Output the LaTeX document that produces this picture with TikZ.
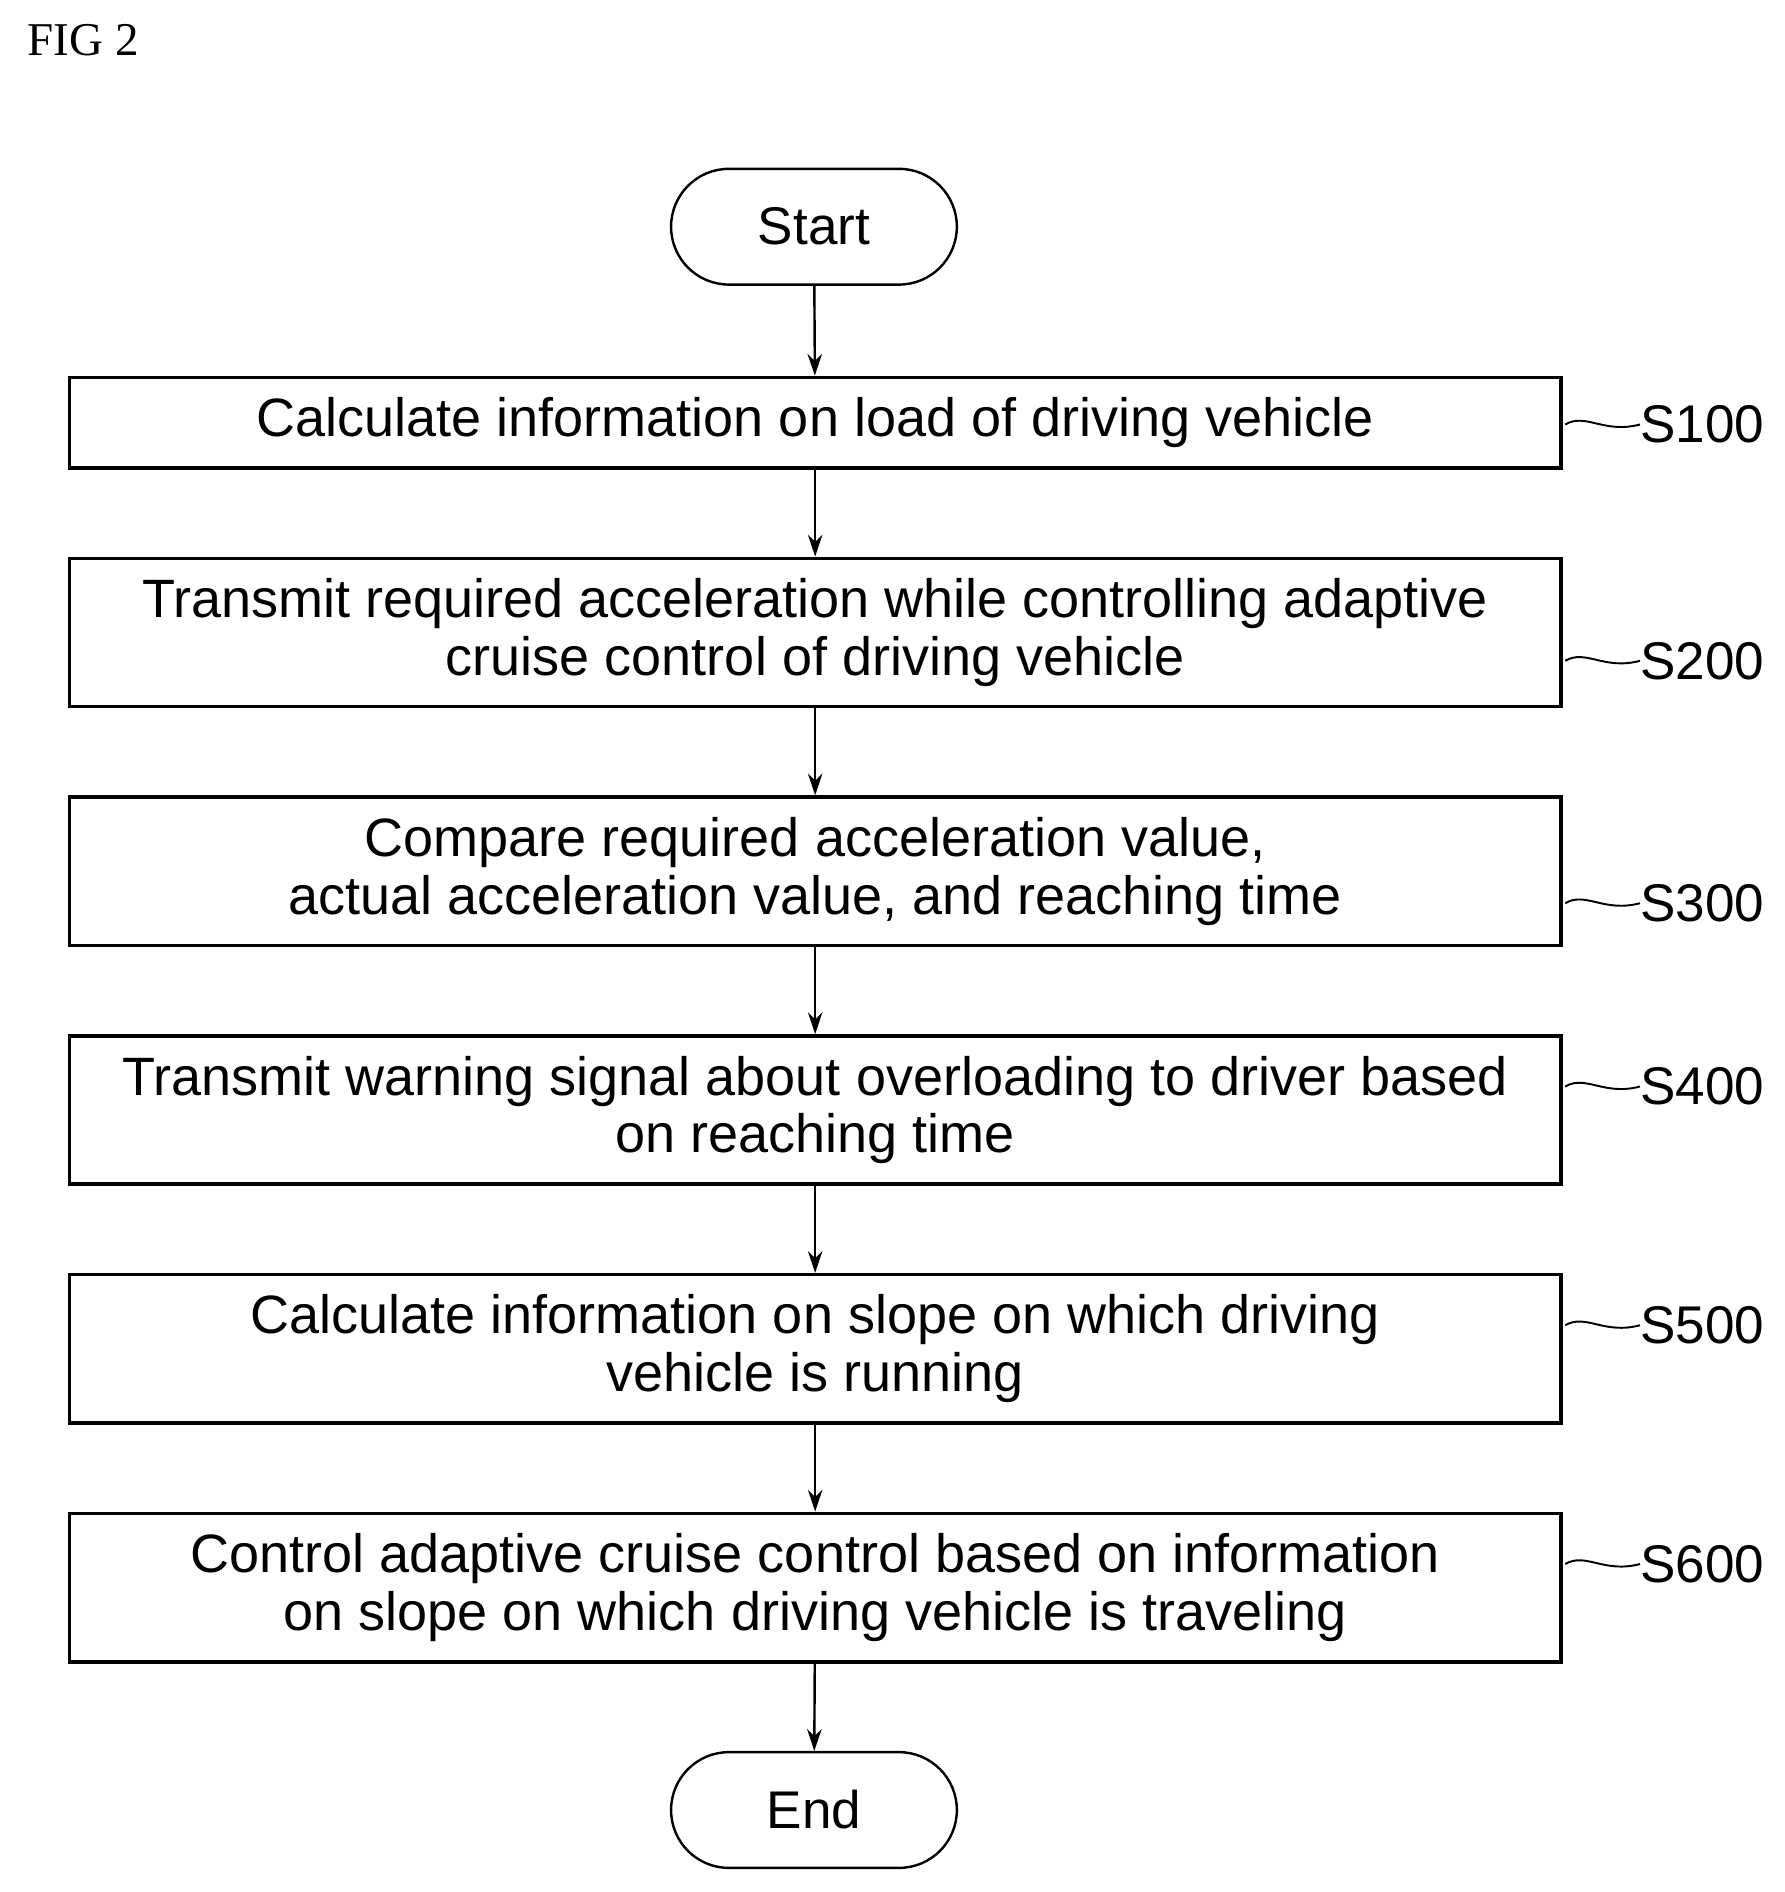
\documentclass[tikz,border=0pt]{standalone}
\usepackage{fontspec}
\setmainfont{Liberation Sans}
\newfontfamily\figfont{Liberation Serif}
\usetikzlibrary{arrows.meta}
\begin{document}
\begin{tikzpicture}[x=0.5pt,y=-0.5pt,
  box/.style={draw,line width=1.5pt,minimum width=618.5pt,align=center,font=\fontsize{22.4}{24}\selectfont,inner sep=0pt},
  term/.style={draw,line width=1pt,rounded corners=24pt,minimum width=118.5pt,minimum height=48pt,font=\fontsize{22}{24}\selectfont},
  arr/.style={-{Stealth[length=9pt,width=6pt]},line width=1pt},
  lab/.style={font=\fontsize{22}{24}\selectfont,anchor=west,inner sep=0pt},
  sq/.style={line width=0.8pt}]
\useasboundingbox (0,0) rectangle (1480,1569);
\node[anchor=west,font=\figfont\fontsize{19.5}{20}\selectfont] (fig) at (16,33) {FIG 2};
\node[term] (start) at (675,188) {Start};
\node[box,minimum height=37.5pt] (s1) at (676,350.5) {Calculate information on load of driving vehicle};
\node[box,minimum height=61.5pt] (s2) at (676,524.5) {Transmit required acceleration while controlling adaptive\\cruise control of driving vehicle};
\node[box,minimum height=61.5pt] (s3) at (676,722.5) {Compare required acceleration value,\\actual acceleration value, and reaching time};
\node[box,minimum height=61.5pt] (s4) at (676,920.5) {Transmit warning signal about overloading to driver based\\on reaching time};
\node[box,minimum height=61.5pt] (s5) at (676,1118.5) {Calculate information on slope on which driving\\vehicle is running};
\node[box,minimum height=61.5pt] (s6) at (676,1316.5) {Control adaptive cruise control based on information\\on slope on which driving vehicle is traveling};
\node[term] (end) at (675,1501) {End};
\draw[arr] (start) -- (s1);
\draw[arr] (s1) -- (s2);
\draw[arr] (s2) -- (s3);
\draw[arr] (s3) -- (s4);
\draw[arr] (s4) -- (s5);
\draw[arr] (s5) -- (s6);
\draw[arr] (s6) -- (end);
\foreach \n/\y/\t in {1/352/S100,2/548/S200,3/749/S300,4/901/S400,5/1099/S500,6/1297/S600}{
  \node[lab] (l\n) at (1360,\y) {\t};
  \coordinate (c\n) at (1298,\y);
  \draw[sq] (c\n) .. controls (1315,\y-10) and (1330,\y+8) .. (l\n.west);
}
\end{tikzpicture}
\end{document}
